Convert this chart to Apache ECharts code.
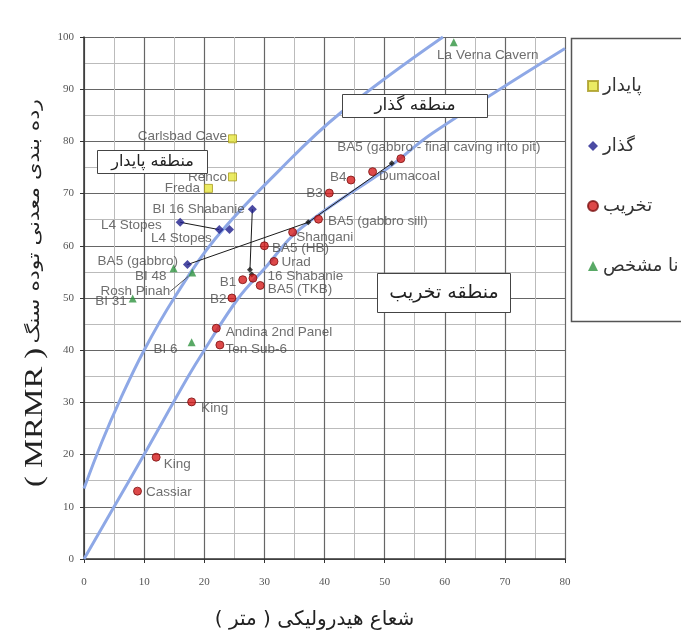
<!DOCTYPE html>
<html><head><meta charset="utf-8">
<script src="https://cdn.jsdelivr.net/npm/echarts@6/dist/echarts.min.js"></script>
<style>html,body{margin:0;padding:0;background:#fff}#c{width:681px;height:635px}</style>
</head><body><div id="c"></div>
<script>
// ---- data ----
const xTicks = [0,10,20,30,40,50,60,70,80];
const yTicks = [0,10,20,30,40,50,60,70,80,90,100];

// boundary curves
const upperCurveX = [0, 3, 6, 10, 15, 21.8, 32.6, 42.6, 59.7];
const upperCurveY = [13.5, 22.5, 30.5, 40, 50, 61.3, 74.6, 85.4, 100];
const lowerCurveX = [0, 5, 10, 17.2, 20, 25.7, 30, 35.9, 50.9, 58, 80];
const lowerCurveY = [0, 10, 20, 34.7, 40, 50, 55.6, 63.2, 75.2, 81.6, 97.8];

// stable (پایدار)
const stableNames = ['Carlsbad Cave', 'Renco', 'Freda'];
const stableX = [24.7, 24.7, 20.7];
const stableY = [80.5, 73.2, 71.0];

// transition (گذار)
const transNames = ['BI 16 Shabanie', 'L4 Stopes', 'L4 Stopes', '', 'BA5 (gabbro)'];
const transX = [28.0, 16.0, 22.5, 24.2, 17.2];
const transY = [67.0, 64.5, 63.1, 63.1, 56.4];

// caving (تخریب)
const cavNames = ['BA5 (gabbro - final caving into pit)', 'Dumacoal', 'B4', 'B3', 'BA5 (gabbro sill)',
  'Shangani', 'BA5 (HB)', 'Urad', 'B1', '16 Shabanie', 'BA5 (TKB)', 'B2',
  'Andina 2nd Panel', 'Ten Sub-6', 'King', 'King', 'Cassiar'];
const cavX = [52.7, 48.0, 44.4, 40.8, 39.0, 34.7, 30.0, 31.6, 26.4, 28.1, 29.3, 24.6, 22.0, 22.6, 17.9, 12.0, 8.9];
const cavY = [76.7, 74.2, 72.6, 70.1, 65.1, 62.6, 60.0, 57.0, 53.5, 53.8, 52.4, 50.0, 44.2, 41.0, 30.1, 19.5, 13.0];

// unknown (نا مشخص)
const unkNames = ['La Verna Cavern', 'BI 48', 'Rosh Pinah', 'BI 31', 'BI 6'];
const unkX = [61.5, 14.9, 18.0, 8.1, 17.9];
const unkY = [99.0, 55.7, 54.9, 49.9, 41.5];

// case-history paths and their end markers
const pathL4X = [16.0, 22.5];            const pathL4Y = [64.5, 63.1];
const pathShabX = [28.0, 27.6];          const pathShabY = [67.0, 55.4];
const pathBa5X = [17.2, 37.3];           const pathBa5Y = [56.4, 64.5];
const pathBa5FinalX = [37.3, 51.2];      const pathBa5FinalY = [64.5, 75.8];
const endX = [27.6, 27.9, 37.3, 51.2];
const endY = [55.4, 54.5, 64.5, 75.8];

const legendNames = ['پایدار', 'گذار', 'تخریب', 'نا مشخص'];
const xTitle = 'شعاع هیدرولیکی ( متر )';
const yTitleFa = 'رده بندی معدنی توده سنگ';
const yTitleEn = '( MRMR )';
const zoneStable = 'منطقه پایدار';
const zoneTrans = 'منطقه گذار';
const zoneCave = 'منطقه تخریب';

// ---- label layout (positions only) ----
const stableLab = [['left',[4,-3]],['left',[4,0]],['left',[1,0]]];
const transLab = [['left',[2,0]],['left',[-9,3]],['left',[2,9]],['left',[0,0]],['left',[0,-3]]];
const cavLab = [['top',[38,5]],['right',[-3,5]],['left',[5,-3]],['left',[3,0]],['right',[0,2]],
  ['right',[-6,5]],['right',[-2,2]],['right',[-2,1]],['left',[3,3]],['right',[5,-2]],['right',[-2,4]],
  ['left',[4,1]],['right',[0,4]],['right',[-4,4]],['right',[0,6]],['right',[-2,7]],['right',[-1,1]]];
const unkLab = [['bottom',[34,-3]],['left',[2,8]],['left',[-13,19]],['left',[3,3]],['left',[-5,7]]];
const leaderIndex = 2;            // Rosh Pinah label sits away from its mark

const labFont = {fontFamily:'Liberation Sans, Arial, sans-serif', fontSize:13.5, color:'#4a4a4a'};
function pts(xs, ys, names, lab, useLayout, leader){
  return xs.map((x,i)=>{
    const d = {value:[x, ys[i]], name: names[i],
      label: {show: !!names[i], position: lab[i][0], offset: useLayout ? [0,0] : lab[i][1], distance:5, formatter: names[i]}};
    if (leader === i) d.labelLine = {show:true, lineStyle:{color:'#555', width:1}};
    return d;
  });
}
function pair(xs, ys){ return xs.map((x,i)=>[x, ys[i]]); }

const chart = echarts.init(document.getElementById('c'), null, {renderer:'canvas'});
const axisLabelFont = {fontFamily:'Liberation Serif, Times New Roman, serif', fontSize:11, color:'#555'};
const pathStyle = {color:'#1a1a1a', width:1};

function zoneBox(left, top, w, h, text, size){
  return {type:'rect', left:left, top:top, z:50,
    shape:{width:w, height:h}, style:{fill:'#fff', stroke:'#444', lineWidth:1},
    textContent:{style:{text:text, font: size + 'px DejaVu Sans', fill:'#222'}, z:51},
    textConfig:{position:'inside'}};
}

chart.setOption({
  backgroundColor:'#fff',
  animation:false,
  grid:{left:84, right:116, top:37, bottom:72.5, containLabel:false},
  legend:{
    orient:'vertical', left:582, top:72, itemGap:42, itemWidth:10, itemHeight:10,
    data: legendNames,
    textStyle:{fontFamily:'DejaVu Sans', fontSize:18, color:'#333'}
  },
  xAxis:{
    type:'value', min:xTicks[0], max:xTicks[xTicks.length-1], interval:10,
    name: xTitle, nameLocation:'middle', nameGap:51,
    nameTextStyle:{fontFamily:'DejaVu Sans', fontSize:20, color:'#222', padding:[0,20,0,0]},
    axisLine:{show:true, onZero:false, lineStyle:{color:'#333', width:1.5}},
    axisTick:{show:true, length:4, lineStyle:{color:'#333'}},
    axisLabel:Object.assign({margin:18}, axisLabelFont),
    splitLine:{show:true, lineStyle:{color:'#666', width:1.2}},
    minorTick:{show:false, splitNumber:2},
    minorSplitLine:{show:true, lineStyle:{color:'#bbb', width:1}}
  },
  yAxis:{
    type:'value', min:yTicks[0], max:yTicks[yTicks.length-1], interval:10,
    axisLine:{show:true, onZero:false, lineStyle:{color:'#333', width:1.5}},
    axisTick:{show:true, length:4, lineStyle:{color:'#333'}},
    axisLabel:Object.assign({margin:10}, axisLabelFont),
    splitLine:{show:true, lineStyle:{color:'#666', width:1.2}},
    minorTick:{show:false, splitNumber:2},
    minorSplitLine:{show:true, lineStyle:{color:'#bbb', width:1}}
  },
  graphic:[
    {type:'rect', left:569, top:36, shape:{width:130, height:283},
     style:{fill:'none', stroke:'#555', lineWidth:1.5}, z:1},
    {type:'text', x:35, y:293, rotation:Math.PI/2, scaleX:1.3, scaleY:1,
     style:{text:'{en|' + yTitleEn + '} {fa|' + yTitleFa + '}', align:'center', verticalAlign:'middle',
       rich:{fa:{font:'17px DejaVu Sans', fill:'#222'}, en:{font:'25px Liberation Serif', fill:'#222'}}}},
    zoneBox(97, 150, 110, 23, zoneStable, 16),
    zoneBox(342, 94, 145, 23, zoneTrans, 17),
    zoneBox(377, 273, 133, 39, zoneCave, 19)
  ],
  series:[
    {type:'line', data:pair(upperCurveX, upperCurveY), smooth:0.4, showSymbol:false, silent:true,
     lineStyle:{color:'#8ea8e6', width:3}, z:2},
    {type:'line', data:pair(lowerCurveX, lowerCurveY), smooth:0.4, showSymbol:false, silent:true,
     lineStyle:{color:'#8ea8e6', width:3}, z:2},
    {type:'line', data:pair(pathL4X, pathL4Y), showSymbol:false, lineStyle:pathStyle, z:3},
    {type:'line', data:pair(pathShabX, pathShabY), showSymbol:false, lineStyle:pathStyle, z:3},
    {type:'line', data:pair(pathBa5X, pathBa5Y), showSymbol:false, lineStyle:pathStyle, z:3},
    {type:'line', data:pair(pathBa5FinalX, pathBa5FinalY), showSymbol:false, lineStyle:pathStyle, z:3},
    {type:'scatter', data:pair(endX, endY), symbol:'diamond', symbolSize:6,
     itemStyle:{color:'#111'}, z:4},
    {name:legendNames[0], type:'scatter', symbol:'rect', symbolSize:8,
     itemStyle:{color:'#e6e63c', borderColor:'#a89a20', borderWidth:1},
     label:labFont, data:pts(stableX, stableY, stableNames, stableLab), z:5},
    {name:legendNames[1], type:'scatter', symbol:'diamond', symbolSize:9,
     itemStyle:{color:'#1e1e8c'},
     label:labFont, data:pts(transX, transY, transNames, transLab), z:5},
    {name:legendNames[2], type:'scatter', symbol:'circle', symbolSize:8,
     itemStyle:{color:'#d41c1c', borderColor:'#7a1010', borderWidth:1},
     label:labFont, data:pts(cavX, cavY, cavNames, cavLab), z:5},
    {name:legendNames[3], type:'scatter', symbol:'triangle', symbolSize:8,
     itemStyle:{color:'#2f9440'},
     label:labFont, labelLine:{show:false},
     labelLayout:function(p){ const o = unkLab[p.dataIndex][1]; return {dx:o[0], dy:o[1]}; },
     data:pts(unkX, unkY, unkNames, unkLab, true, leaderIndex), z:5}
  ]
});
</script></body></html>
